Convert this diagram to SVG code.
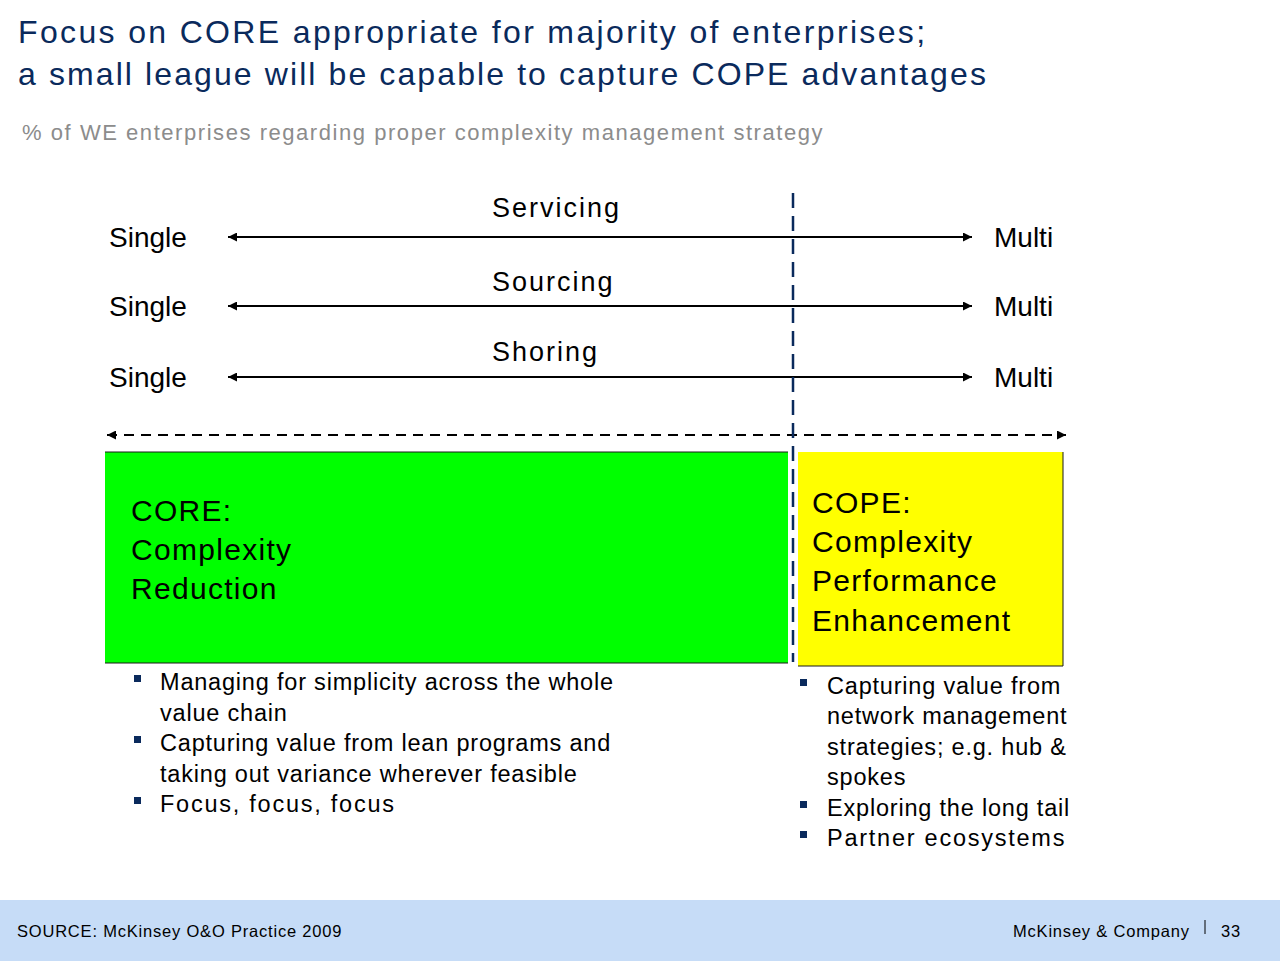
<svg xmlns="http://www.w3.org/2000/svg" width="1280" height="961" viewBox="0 0 1280 961">
<style>
text{font-family:"Liberation Sans",Arial,sans-serif}
.title{font-size:32px;fill:#0a2a5c;letter-spacing:2.2px}
.sub{font-size:22px;fill:#8c8c8c;letter-spacing:1.55px}
.lbl{font-size:28px;fill:#000}
.cat{font-size:27px;fill:#000;letter-spacing:2px}
.big{font-size:30px;fill:#000;letter-spacing:1.3px}
.bl{font-size:23.5px;fill:#000;letter-spacing:0.8px}
.wide{letter-spacing:1.75px}
.foot{font-size:16.5px;fill:#000;letter-spacing:0.8px}
.ax{stroke:#000;stroke-width:2;fill:none}
.dash{stroke:#000;stroke-width:2;stroke-dasharray:10 7;fill:none}
.vdash{stroke:#0a2a5c;stroke-width:2.5;stroke-dasharray:15 8;fill:none}
.bul{fill:#0a2a5c}
</style>
<defs>
<marker id="ah" viewBox="0 0 10 10" refX="10" refY="5" markerWidth="12" markerHeight="9" markerUnits="userSpaceOnUse" orient="auto-start-reverse">
<path d="M0,0 L10,5 L0,10 z" fill="#000"/>
</marker>
</defs>
<rect width="1280" height="961" fill="#fff"/>
<g id="header">
<text class="title" x="18" y="43" style="letter-spacing:2.35px">Focus on CORE appropriate for majority of enterprises;</text>
<text class="title" x="18" y="85" style="letter-spacing:2.1px">a small league will be capable to capture COPE advantages</text>
<text class="sub" x="22" y="140">% of WE enterprises regarding proper complexity management strategy</text>
</g>
<g id="boxes">
<g id="core">
<rect x="105" y="452" width="683" height="211" fill="#00ff00"/>
<line x1="105" y1="452" x2="788" y2="452" stroke="#1a1a1a" stroke-width="1"/>
<line x1="105" y1="663" x2="788" y2="663" stroke="#1a1a1a" stroke-width="1"/>
<text class="big" x="131" y="521">CORE:</text>
<text class="big" x="131" y="560">Complexity</text>
<text class="big" x="131" y="599">Reduction</text>
</g>
<g id="cope">
<rect x="798" y="452" width="265" height="214" fill="#ffff00"/>
<polyline points="1063,452 1063,666 798,666" fill="none" stroke="#1a1a1a" stroke-width="1"/>
<text class="big" x="812" y="513">COPE:</text>
<text class="big" x="812" y="552">Complexity</text>
<text class="big" x="812" y="591">Performance</text>
<text class="big" x="812" y="631">Enhancement</text>
</g>
</g>
<g id="connectors">
<line class="ax" x1="228" y1="237" x2="972" y2="237" marker-start="url(#ah)" marker-end="url(#ah)"/>
<line class="ax" x1="228" y1="306" x2="972" y2="306" marker-start="url(#ah)" marker-end="url(#ah)"/>
<line class="ax" x1="228" y1="377" x2="972" y2="377" marker-start="url(#ah)" marker-end="url(#ah)"/>
<line class="dash" x1="107" y1="435" x2="1066" y2="435" marker-start="url(#ah)" marker-end="url(#ah)"/>
<line class="vdash" x1="793" y1="193" x2="793" y2="662"/>
</g>
<g id="axis-labels">
<text class="lbl" x="109" y="247">Single</text>
<text class="lbl" x="109" y="316">Single</text>
<text class="lbl" x="109" y="387">Single</text>
<text class="lbl" x="994" y="247">Multi</text>
<text class="lbl" x="994" y="316">Multi</text>
<text class="lbl" x="994" y="387">Multi</text>
<text class="cat" x="492" y="217">Servicing</text>
<text class="cat" x="492" y="291">Sourcing</text>
<text class="cat" x="492" y="361">Shoring</text>
</g>
<g id="core-bullets">
<rect class="bul" x="134" y="675" width="7" height="7"/>
<text class="bl" x="160" y="690">Managing for simplicity across the whole</text>
<text class="bl" x="160" y="721">value chain</text>
<rect class="bul" x="134" y="736" width="7" height="7"/>
<text class="bl" x="160" y="751">Capturing value from lean programs and</text>
<text class="bl" x="160" y="782">taking out variance wherever feasible</text>
<rect class="bul" x="134" y="797" width="7" height="7"/>
<text class="bl wide" x="160" y="812">Focus, focus, focus</text>
</g>
<g id="cope-bullets">
<rect class="bul" x="800" y="679" width="7" height="7"/>
<text class="bl" x="827" y="694">Capturing value from</text>
<text class="bl" x="827" y="724">network management</text>
<text class="bl" x="827" y="755">strategies; e.g. hub &amp;</text>
<text class="bl" x="827" y="785">spokes</text>
<rect class="bul" x="800" y="801" width="7" height="7"/>
<text class="bl" x="827" y="816">Exploring the long tail</text>
<rect class="bul" x="800" y="831" width="7" height="7"/>
<text class="bl wide" x="827" y="846">Partner ecosystems</text>
</g>
<g id="footer">
<rect x="0" y="900" width="1280" height="61" fill="#c6dcf7"/>
<text class="foot" x="17" y="937">SOURCE: McKinsey O&amp;O Practice 2009</text>
<text class="foot" x="1013" y="937">McKinsey &amp; Company</text>
<line x1="1205" y1="920" x2="1205" y2="934" stroke="#000" stroke-width="1"/>
<text class="foot" x="1221" y="937">33</text>
</g>
</svg>
